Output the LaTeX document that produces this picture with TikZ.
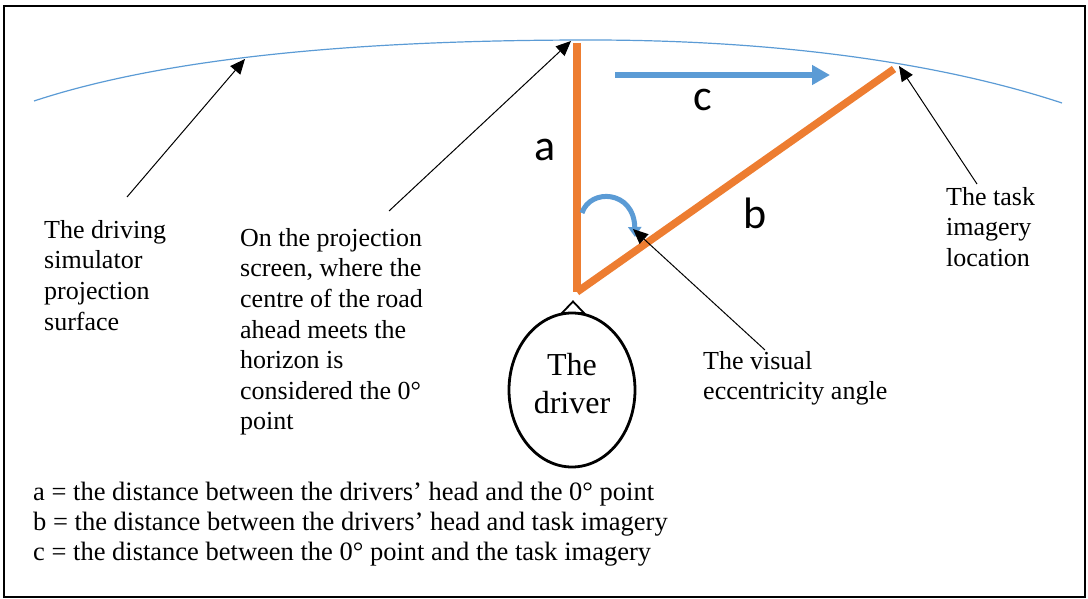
\documentclass[tikz,border=0pt]{standalone}
\usepackage{fontspec}
\setmainfont{Liberation Serif}
\newfontfamily\calib{Carlito}
\usetikzlibrary{arrows.meta,shapes.geometric}
\definecolor{bl}{RGB}{91,155,213}
\definecolor{orng}{RGB}{237,125,49}
\tikzset{
  lbl/.style={align=left,anchor=north west,inner sep=0pt,font=\fontsize{26}{30.6}\selectfont},
  pointer/.style={draw=black,line width=1pt,-{Triangle[length=15pt,width=13pt]}},
  letter/.style={inner sep=0pt,font=\calib\fontsize{44}{44}\selectfont},
  leg/.style={orng,line width=7.5pt},
}
\begin{document}
\begin{tikzpicture}[x=1pt,y=-1pt]
\useasboundingbox (0,0) rectangle (1088,599);
\draw[line width=2.5pt] (4,6) rectangle (1085,597);
% projection surface
\draw[bl,line width=1.2pt] (34,101) .. controls (184,51.5) and (400,40) .. (590,40)
  .. controls (780,40) and (942,63.4) .. (1062,103);
\coordinate (surf) at (245,59);
\coordinate (zero) at (571,41);
\coordinate (task) at (899,66);
% legs
\coordinate (head) at (577,292);
\coordinate (atop) at (577,43);
\coordinate (btop) at (894,69);
\draw[leg] (atop) -- (head);
\draw[leg] (head) -- (btop);
% c arrow
\coordinate (cs) at (615,75);
\coordinate (ce) at (830,75);
\draw[bl,line width=6pt,-{Triangle[length=18pt,width=19pt]}] (cs) -- (ce);
% angle arrow
\coordinate (angs) at (582,213);
\coordinate (ange) at (635,237);
\draw[bl,line width=5pt,-{Triangle[length=10pt,width=13pt]}] (angs) .. controls (590,188) and (634,190) .. (ange);
% letters
\node[letter] (la) at (545,150) {a};
\node[letter] (lb) at (755,213) {b};
\node[letter] (lc) at (703,100) {c};
% driver
\node[draw,line width=2.8pt,ellipse,minimum width=126pt,minimum height=154pt,inner sep=0pt] (drv) at (572,390) {};
\node[align=center,font=\fontsize{32}{38}\selectfont,inner sep=0pt] (drvt) at (572,384) {The\\driver};
\draw[line width=1.8pt,line join=miter] (562,313) -- (573,301.5) -- (584,313) -- cycle;
% text labels
\node[lbl] (t1) at (44,220) {The driving\\simulator\\projection\\surface};
\node[lbl] (t2) at (240,228) {On the projection\\screen, where the\\centre of the road\\ahead meets the\\horizon is\\considered the 0°\\point};
\node[lbl] (t3) at (946,187) {The task\\imagery\\location};
\node[lbl] (t4) at (703,351) {The visual\\eccentricity angle};
\node[lbl,font=\fontsize{26.5}{30}\selectfont] (leg) at (33,482) {a = the distance between the drivers’ head and the 0° point\\b = the distance between the drivers’ head and task imagery\\c = the distance between the 0° point and the task imagery};
% pointers
\coordinate (p1) at (127,197);
\coordinate (p2) at (389,211);
\coordinate (p3) at (977,184);
\coordinate (p4) at (765,350);
\coordinate (angtip) at (633,229);
\draw[pointer] (p1) -- (surf);
\draw[pointer] (p2) -- (zero);
\draw[pointer] (p3) -- (task);
\draw[pointer] (p4) -- (angtip);
\end{tikzpicture}
\end{document}
